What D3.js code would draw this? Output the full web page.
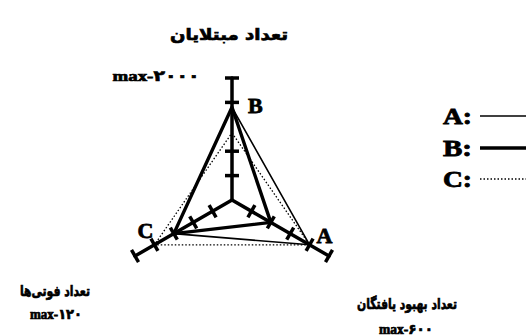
<!DOCTYPE html>
<html>
<head>
<meta charset="utf-8">
<script src="https://cdn.jsdelivr.net/npm/d3@7"></script>
<style>
  html, body { margin: 0; padding: 0; background: #fff; }
  svg { display: block; }
</style>
</head>
<body>
<script>
// Axes of the triangle chart (top, lower-right, lower-left)
const axisKeys   = ["infected", "recovered", "deaths"];
const axisTitles = ["تعداد مبتلایان", "تعداد بهبود یافتگان", "تعداد فوتی‌ها"];
const axisMax    = [2000, 600, 120];
const maxLabels  = ["max-۲۰۰۰", "max-۶۰۰", "max-۱۲۰"];
const axisTicks  = [[400, 800, 1600], [120, 240, 360, 480], [24, 48, 72, 96]];

// Series values, one per axis (infected, recovered, deaths)
const seriesNames = ["A", "B", "C"];
const seriesA = [1520, 480, 72];
const seriesB = [1520, 240, 72];
const seriesC = [1100, 480, 96];
// axis next to which each series letter is written
const seriesLabelAxis = [1, 0, 2];

const W = 526, H = 336;
const cx = 232, cy = 200;
const axisLen = [122, 112, 112];
const angles = [-90, 30, 150].map(d => d * Math.PI / 180);

const svg = d3.select("body").append("svg")
  .attr("width", W).attr("height", H)
  .attr("viewBox", `0 0 ${W} ${H}`);

const scales = axisMax.map((m, i) => d3.scaleLinear().domain([0, m]).range([0, axisLen[i]]));
const pt = (i, v) => {
  const r = scales[i](v);
  return [cx + r * Math.cos(angles[i]), cy + r * Math.sin(angles[i])];
};

// perpendicular bar across axis i at value v
function crossBar(g, i, v, half, width) {
  const [x, y] = pt(i, v);
  const px = -Math.sin(angles[i]), py = Math.cos(angles[i]);
  g.append("line")
    .attr("x1", x - px * half).attr("y1", y - py * half)
    .attr("x2", x + px * half).attr("y2", y + py * half)
    .attr("stroke", "#000").attr("stroke-width", width);
}

// axes
const gAxes = svg.append("g");
axisKeys.forEach((k, i) => {
  const [x2, y2] = pt(i, axisMax[i]);
  gAxes.append("line")
    .attr("x1", cx).attr("y1", cy).attr("x2", x2).attr("y2", y2)
    .attr("stroke", "#000").attr("stroke-width", 3.5)
    .attr("stroke-linecap", "round");
  crossBar(gAxes, i, axisMax[i], 7, 3.5);
  axisTicks[i].forEach(t => crossBar(gAxes, i, t, 7, 3.5));
});

// series polygons
const seriesData = [seriesA, seriesB, seriesC];
const seriesStyle = [
  { w: 1.6, dash: null },
  { w: 3.4, dash: null },
  { w: 1.3, dash: "1.5,2" }
];
const line = d3.line().curve(d3.curveLinearClosed);
const gSeries = svg.append("g");
seriesData.forEach((vals, s) => {
  gSeries.append("path")
    .attr("d", line(vals.map((v, i) => pt(i, v))))
    .attr("fill", "none")
    .attr("stroke", "#000")
    .attr("stroke-width", seriesStyle[s].w)
    .attr("stroke-linejoin", "round")
    .attr("stroke-dasharray", seriesStyle[s].dash);
});

// series letters beside their vertices
const letterOffset = [[7, -2], [16, 6], [-1, -7]];
const letterAnchor = ["start", "start", "end"];
seriesNames.forEach((n, s) => {
  const ai = seriesLabelAxis[s];
  const [x, y] = pt(ai, seriesData[s][ai]);
  svg.append("text")
    .attr("x", x + letterOffset[s][0]).attr("y", y + letterOffset[s][1])
    .attr("text-anchor", letterAnchor[s])
    .attr("font-family", "'Liberation Serif', 'DejaVu Serif', serif")
    .attr("font-weight", "bold").attr("font-size", 22)
    .attr("stroke", "#000").attr("stroke-width", 0.8)
    .text(n);
});

// axis titles and max labels
const fa = "'DejaVu Sans', sans-serif";
const latin = "'Liberation Serif', 'DejaVu Sans', serif";
const titlePos = [[229, 40, 118, 16], [407, 309, 100, 15], [55, 296, 70, 15]];
const maxPos   = [[156, 81, 87, 15], [406, 334, 54, 14], [56, 319, 52, 14]];
axisKeys.forEach((k, i) => {
  const [tx, ty, tw, ts] = titlePos[i];
  svg.append("text")
    .attr("x", tx).attr("y", ty)
    .attr("text-anchor", "middle")
    .attr("direction", "rtl")
    .attr("font-family", fa).attr("font-weight", "bold").attr("font-size", ts)
    .attr("stroke", "#000").attr("stroke-width", 0.7)
    .attr("textLength", tw).attr("lengthAdjust", "spacingAndGlyphs")
    .text(axisTitles[i]);
  const [mx, my, mw, ms] = maxPos[i];
  svg.append("text")
    .attr("x", mx).attr("y", my)
    .attr("text-anchor", "middle")
    .attr("direction", "ltr")
    .attr("font-family", latin).attr("font-weight", "bold").attr("font-size", ms)
    .attr("stroke", "#000").attr("stroke-width", 0.7)
    .attr("textLength", mw).attr("lengthAdjust", "spacingAndGlyphs")
    .text(maxLabels[i]);
});

// legend
const legendY = [116, 148, 179];
const gLeg = svg.append("g");
seriesNames.forEach((n, s) => {
  gLeg.append("text")
    .attr("x", 443).attr("y", legendY[s] + 8)
    .attr("font-family", latin).attr("font-weight", "bold").attr("font-size", 23)
    .attr("stroke", "#000").attr("stroke-width", 0.8)
    .attr("textLength", 29).attr("lengthAdjust", "spacingAndGlyphs")
    .text(n + ":");
  gLeg.append("line")
    .attr("x1", 480).attr("x2", 530)
    .attr("y1", legendY[s]).attr("y2", legendY[s])
    .attr("stroke", "#000")
    .attr("stroke-width", seriesStyle[s].w)
    .attr("stroke-dasharray", seriesStyle[s].dash);
});
</script>
</body>
</html>
